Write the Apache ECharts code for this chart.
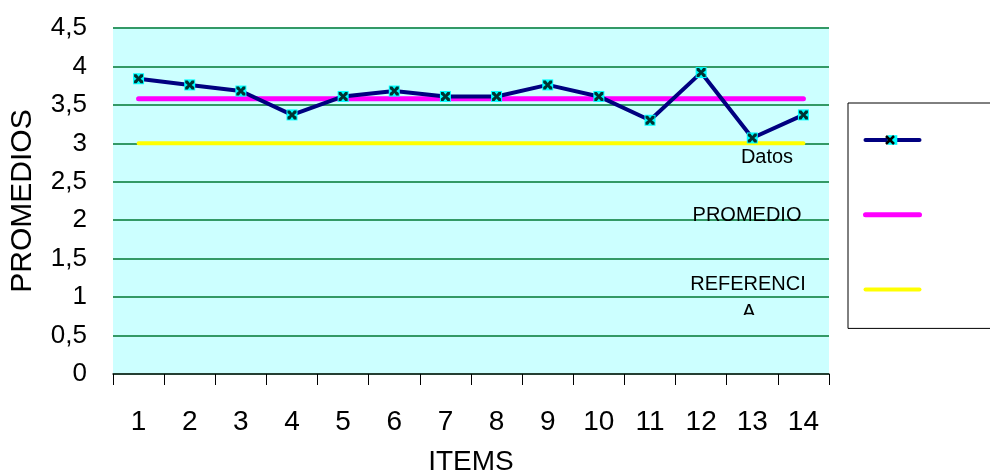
<!DOCTYPE html>
<html><head><meta charset="utf-8">
<script src="https://cdn.jsdelivr.net/npm/echarts@6/dist/echarts.min.js"></script>
<style>html,body{margin:0;padding:0;background:#fff;}#c{width:990px;height:473px;}</style>
</head><body><div id="c"></div>
<script>
const categories = ['1','2','3','4','5','6','7','8','9','10','11','12','13','14'];
const datos = [3.84, 3.76, 3.68, 3.37, 3.61, 3.68, 3.61, 3.61, 3.76, 3.61, 3.30, 3.92, 3.07, 3.37];
const promedio = [3.58, 3.58, 3.58, 3.58, 3.58, 3.58, 3.58, 3.58, 3.58, 3.58, 3.58, 3.58, 3.58, 3.58];
const referencia = [3, 3, 3, 3, 3, 3, 3, 3, 3, 3, 3, 3, 3, 3];
const seriesNames = ['Datos', 'PROMEDIO', 'REFERENCIA'];

const FONT = '"Liberation Sans", Arial, sans-serif';
const xMark = 'path://M0,0 L2.8,0 L5,2.8 L7.2,0 L10,0 L10,2.8 L7.2,5 L10,7.2 L10,10 L7.2,10 L5,7.2 L2.8,10 L0,10 L0,7.2 L2.8,5 L0,2.8 Z';

const chart = echarts.init(document.getElementById('c'), null, {renderer: 'canvas'});
chart.setOption({
  animation: false,
  backgroundColor: '#ffffff',
  textStyle: {fontFamily: FONT},
  grid: {left: 113, right: 161, top: 28, bottom: 99, show: true, backgroundColor: '#CCFFFF', borderWidth: 0,
         containLabel: false, outerBoundsMode: 'none'},
  xAxis: {
    type: 'category', data: categories, boundaryGap: true,
    name: 'ITEMS', nameLocation: 'middle', nameGap: 74,
    nameTextStyle: {fontSize: 28, color: '#000', fontFamily: FONT},
    axisLine: {lineStyle: {color: '#222', width: 1.5}},
    axisTick: {show: true, length: 11, lineStyle: {color: '#000', width: 1}},
    axisLabel: {fontSize: 28, color: '#000', margin: 34, fontFamily: FONT, interval: 0},
    splitLine: {show: false}
  },
  yAxis: {
    type: 'value', min: 0, max: 4.5, interval: 0.5,
    name: 'PROMEDIOS', nameLocation: 'middle', nameGap: 75, nameRotate: 90,
    nameTextStyle: {fontSize: 30, color: '#000', fontFamily: FONT},
    axisLine: {show: false}, axisTick: {show: false},
    axisLabel: {fontSize: 26, color: '#000', margin: 26, fontFamily: FONT,
      formatter: v => String(v).replace('.', ',')},
    splitLine: {show: true, lineStyle: {color: '#339966', width: 2}}
  },
  legend: {
    orient: 'vertical', left: 848, top: 103,
    padding: [31, 140, 34, 15],
    itemWidth: 54, itemHeight: 12, itemGap: 64,
    backgroundColor: '#ffffff', borderColor: '#000', borderWidth: 1, borderRadius: 0,
    formatter: () => '',
    textStyle: {fontSize: 8},
    lineStyle: {width: 'inherit', cap: 'round'},
    selectedMode: false,
    data: [
      {name: seriesNames[0]},
      {name: seriesNames[1], itemStyle: {opacity: 0}},
      {name: seriesNames[2], itemStyle: {opacity: 0}}
    ]
  },
  series: [
    {name: seriesNames[0], type: 'line', data: datos, z: 3,
     symbol: 'rect', symbolSize: 11, showSymbol: true,
     itemStyle: {color: '#00FFFF', borderWidth: 0},
     lineStyle: {color: '#000080', width: 4, join: 'round', cap: 'round'}},
    {name: seriesNames[1], type: 'line', data: promedio, z: 2,
     symbol: 'none', showSymbol: false,
     itemStyle: {color: '#FF00FF'},
     lineStyle: {color: '#FF00FF', width: 5, cap: 'round'}},
    {name: seriesNames[2], type: 'line', data: referencia, z: 2,
     symbol: 'none', showSymbol: false,
     itemStyle: {color: '#FFFF00'},
     lineStyle: {color: '#FFFF00', width: 4, cap: 'round'}},
    {name: 'marcas', type: 'scatter', data: datos, z: 5, silent: true,
     symbol: xMark, symbolSize: 9, itemStyle: {color: '#000'}}
  ],
  graphic: [
    {type: 'line', z: 200, shape: {x1: 886, y1: 136, x2: 894, y2: 144}, style: {stroke: '#000', lineWidth: 2.5}},
    {type: 'line', z: 200, shape: {x1: 894, y1: 136, x2: 886, y2: 144}, style: {stroke: '#000', lineWidth: 2.5}},
    {type: 'text', z: 100, x: 767, y: 157, style: {text: 'Datos', fontSize: 20, fontFamily: FONT, fill: '#000', align: 'center', verticalAlign: 'middle'}},
    {type: 'text', z: 100, x: 747, y: 215, style: {text: 'PROMEDIO', fontSize: 20, fontFamily: FONT, fill: '#000', align: 'center', verticalAlign: 'middle'}},
    {type: 'text', z: 100, x: 748, y: 284, style: {text: 'REFERENCI', fontSize: 20, fontFamily: FONT, fill: '#000', align: 'center', verticalAlign: 'middle'}},
    {type: 'text', z: 100, x: 749, y: 312, style: {text: 'A', fontSize: 20, fontFamily: FONT, fill: '#000', align: 'center', verticalAlign: 'middle'}},
    {type: 'rect', z: 101, shape: {x: 735, y: 315, width: 30, height: 10}, style: {fill: '#CCFFFF'}}
  ]
});
</script></body></html>
